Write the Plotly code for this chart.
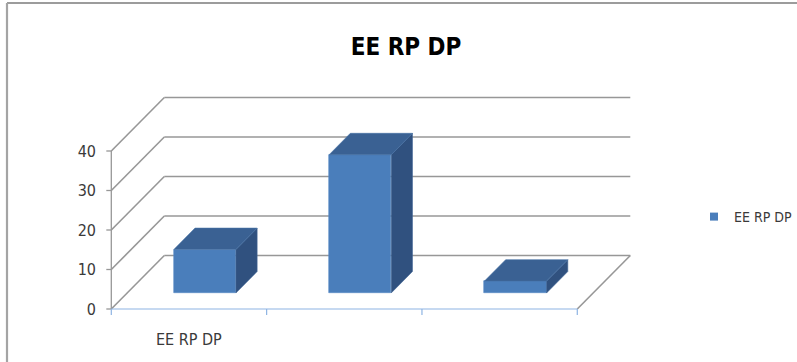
import plotly.graph_objects as go

# ---- data ----
categories = ["EE RP DP", "", ""]
values = [11, 35, 3]
series_name = "EE RP DP"
y_ticks = [0, 10, 20, 30, 40]
chart_title = "EE RP DP"

# ---- look ----
FRONT = "#4A7EBB"
TOP = "#3A6193"
SIDE = "#30517F"
GRID = "#979797"
AXIS_BLUE = "#8EB4E3"
TEXT = "#3A3A3A"
FONT = "Liberation Sans Narrow, DejaVu Sans Condensed, DejaVu Sans, sans-serif"

W, H = 797, 362
# pixel frame of the plotting area
PX_L, PX_R, PX_T, PX_B = 104, 640, 92, 316
ORIGIN_X, ORIGIN_Y = 111.3, 309.0   # pixel of (x=-0.5, y=0)
CAT_PX = 155.33                     # pixels per category
UNIT_PX = 3.95                      # pixels per value unit

x_min = -0.5 - (ORIGIN_X - PX_L) / CAT_PX
x_max = -0.5 + (PX_R - ORIGIN_X) / CAT_PX
y_min = -(PX_B - ORIGIN_Y) / UNIT_PX
y_max = (ORIGIN_Y - PX_T) / UNIT_PX

# oblique depth of the floor/walls, in axis units
DEPTH_X = 53.0 / CAT_PX
DEPTH_Y = 53.5 / UNIT_PX
BAR_FRONT, BAR_BACK = 0.3, 0.7      # bar slab position inside the depth
BAR_W = 0.4

n = len(categories)
x_lo, x_hi = -0.5, n - 0.5
top_tick = y_ticks[-1]

shapes = []


def seg(x0, y0, x1, y1, color, width, layer="below"):
    shapes.append(dict(type="line", xref="x", yref="y", x0=x0, y0=y0, x1=x1, y1=y1,
                       line=dict(color=color, width=width), layer=layer))


# back wall gridlines and left wall diagonals
for v in y_ticks:
    seg(x_lo, v, x_lo + DEPTH_X, v + DEPTH_Y, GRID, 1.6)
    seg(x_lo + DEPTH_X, v + DEPTH_Y, x_hi + DEPTH_X, v + DEPTH_Y, GRID, 1.6)
# right edge of the floor
seg(x_hi, 0, x_hi + DEPTH_X, DEPTH_Y, GRID, 1.6)
# vertical value axis and its ticks
seg(x_lo, 0, x_lo, top_tick, GRID, 1.3)
for v in y_ticks:
    seg(x_lo - 5 / CAT_PX, v, x_lo, v, GRID, 1.3)
# category axis and boundary ticks
seg(x_lo, 0, x_hi, 0, AXIS_BLUE, 1.2)
for i in range(n + 1):
    seg(x_lo + i, 0, x_lo + i, -6 / UNIT_PX, AXIS_BLUE, 1.2)

# chart frame (left and top edges)
def px_to_paper_x(px):
    return (px - PX_L) / (PX_R - PX_L)


def px_to_paper_y(py):
    return (PX_B - py) / (PX_B - PX_T)


frame_x, frame_y = 7, 3
shapes.append(dict(type="line", xref="paper", yref="paper",
                   x0=px_to_paper_x(frame_x), y0=px_to_paper_y(frame_y),
                   x1=px_to_paper_x(W + 5), y1=px_to_paper_y(frame_y),
                   line=dict(color="#9C9C9C", width=2.2)))
shapes.append(dict(type="line", xref="paper", yref="paper",
                   x0=px_to_paper_x(frame_x), y0=px_to_paper_y(frame_y),
                   x1=px_to_paper_x(frame_x), y1=px_to_paper_y(H + 5),
                   line=dict(color="#A4A4A4", width=2.2)))

fig = go.Figure()

# bar geometry from the values
shift_x = BAR_FRONT * DEPTH_X
base_y = BAR_FRONT * DEPTH_Y
slab_x = (BAR_BACK - BAR_FRONT) * DEPTH_X
slab_y = (BAR_BACK - BAR_FRONT) * DEPTH_Y
centers = [i + shift_x for i in range(n)]

# front faces
fig.add_trace(go.Bar(
    x=centers, y=values, base=[base_y] * n, width=BAR_W,
    marker=dict(color=FRONT, line=dict(width=0.6, color="#5B8CC8")),
    showlegend=False, hoverinfo="skip",
))

# top and side faces
top_x, top_y, side_x, side_y = [], [], [], []
for c, v in zip(centers, values):
    xl, xr = c - BAR_W / 2, c + BAR_W / 2
    yt = base_y + v
    top_x += [xl, xr, xr + slab_x, xl + slab_x, xl, None]
    top_y += [yt, yt, yt + slab_y, yt + slab_y, yt, None]
    side_x += [xr, xr + slab_x, xr + slab_x, xr, xr, None]
    side_y += [base_y, base_y + slab_y, yt + slab_y, yt, base_y, None]

fig.add_trace(go.Scatter(x=side_x, y=side_y, fill="toself", mode="lines",
                         fillcolor=SIDE, line=dict(color="#3F6496", width=0.6),
                         showlegend=False, hoverinfo="skip"))
fig.add_trace(go.Scatter(x=top_x, y=top_y, fill="toself", mode="lines",
                         fillcolor=TOP, line=dict(color="#4570A5", width=0.6),
                         showlegend=False, hoverinfo="skip"))

# legend entry
fig.add_trace(go.Scatter(x=[None], y=[None], mode="markers", name=series_name,
                         marker=dict(symbol="square", size=8, color=FRONT)))

annotations = [
    # category label under the first slot
    dict(x=0, y=0, xref="x", yref="y", text=categories[0], showarrow=False,
         yanchor="top", yshift=-19, font=dict(family=FONT, size=16, color=TEXT)),
]

fig.update_layout(
    width=W, height=H, autosize=False,
    margin=dict(l=PX_L, r=W - PX_R, t=PX_T, b=H - PX_B, pad=0, autoexpand=False),
    paper_bgcolor="white", plot_bgcolor="white",
    title=dict(text=chart_title, xref="container", yref="container",
               x=406 / W, y=1 - 47 / H, xanchor="center", yanchor="middle",
               font=dict(family=FONT, size=24, color="#000000", weight="bold")),
    xaxis=dict(range=[x_min, x_max], showgrid=False, zeroline=False, showline=False,
               showticklabels=False, ticks="", fixedrange=True),
    yaxis=dict(range=[y_min, y_max], showgrid=False, zeroline=False, showline=False,
               tickvals=y_ticks, ticks="", ticklabelstandoff=7,
               tickfont=dict(family=FONT, size=16, color=TEXT), fixedrange=True),
    legend=dict(x=px_to_paper_x(694), y=px_to_paper_y(217), xanchor="left",
                yanchor="middle", font=dict(family=FONT, size=14, color=TEXT),
                itemwidth=30, bgcolor="rgba(0,0,0,0)"),
    shapes=shapes,
    annotations=annotations,
    showlegend=True,
    bargap=0,
)

fig.write_html("out.html")
